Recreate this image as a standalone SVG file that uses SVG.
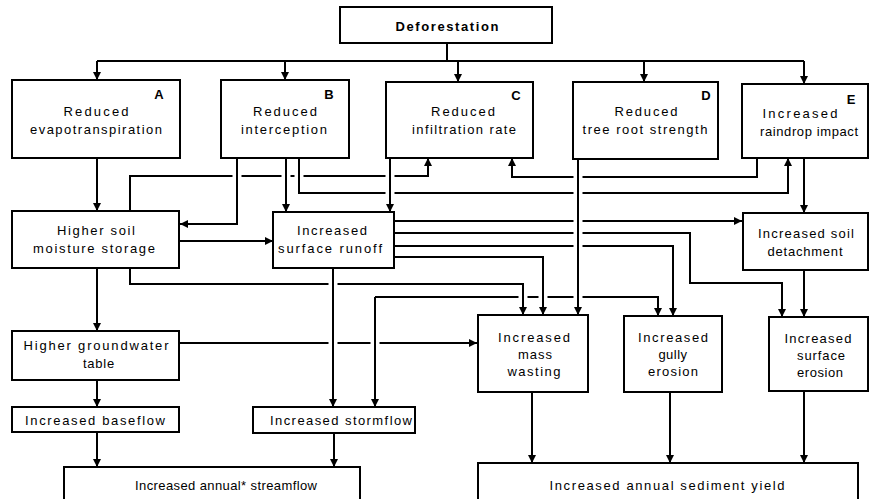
<svg xmlns="http://www.w3.org/2000/svg" width="870" height="499" viewBox="0 0 870 499">
<defs>
<marker id="ah" viewBox="0 0 8 8" refX="8" refY="4" markerWidth="8" markerHeight="8" markerUnits="userSpaceOnUse" orient="auto">
<path d="M0,0 L8,4 L0,8 z" fill="#000"/>
</marker>
<style>
.box{fill:#fff;stroke:#000;stroke-width:2}
.t{font-family:"Liberation Sans",Arial,sans-serif;font-size:13px;text-anchor:middle;fill:#000}
.lab{font-family:"Liberation Sans",Arial,sans-serif;font-size:13px;font-weight:bold;text-anchor:middle;fill:#000}
.w{fill:none;stroke:#000;stroke-width:2}
.a{marker-end:url(#ah)}
.gap{stroke:#fff;stroke-width:9}
.rw{stroke:#000;stroke-width:2}
</style>
</defs>
<rect width="870" height="499" fill="#fff"/>

<g id="connectors">
<path class="w" d="M447,43 V61 M97,61 H804"/>
<path class="w a" d="M97,61 V80"/>
<path class="w a" d="M285,61 V80"/>
<path class="w a" d="M458,61 V82"/>
<path class="w a" d="M644,61 V82"/>
<path class="w a" d="M804,61 V84"/>

<path class="w a" d="M130,211 V176 H428 V158"/>
<path class="w a" d="M757,158 V177 H512 V158"/>
<path class="w a" d="M299,158 V193 H788 V158"/>
<path class="w a" d="M97,158 V211"/>
<path class="w a" d="M97,268 V331"/>
<path class="w a" d="M97,380 V407"/>
<path class="w a" d="M97,432 V467"/>
<path class="w a" d="M334,433 V467"/>
<path class="w a" d="M179,241 H273"/>
<path class="w a" d="M237,158 V224 H180"/>
<path class="w a" d="M286,158 V212"/>
<path class="w a" d="M390,158 V212"/>
<path class="w a" d="M578,159 V315"/>
<path class="w a" d="M804,158 V213"/>
<path class="w a" d="M804,270 V317"/>
<path class="w a" d="M394,221 H742"/>
<path class="w a" d="M394,233 H690 V283 H782 V317"/>
<path class="w a" d="M394,246 H673 V316"/>
<path class="w a" d="M394,257 H543 V315"/>
<path class="w a" d="M130,268 V284 H523 V315"/>
<path class="w a" d="M375,297 H658 V316"/>
<path class="w a" d="M375,297 V407"/>
<path class="w a" d="M333,268 V407"/>
<path class="w a" d="M179,343 H477"/>
<path class="w a" d="M532,392 V463"/>
<path class="w a" d="M670,392 V463"/>
<path class="w a" d="M804,391 V463"/>

<g id="crossings">
<path class="gap" d="M237,171 V181 M286,171 V181 M299,171 V181 M390,171 V181 M578,172 V182 M390,188 V198 M578,188 V198 M578,216 V226 M578,228 V238 M578,241 V251 M333,279 V289 M523,292 V302 M543,292 V302 M578,292 V302 M333,338 V348 M375,338 V348"/>
<path class="rw" d="M237,169 V183 M286,169 V183 M299,169 V183 M390,169 V183 M578,170 V184 M390,186 V200 M578,186 V200 M578,214 V228 M578,226 V240 M578,239 V253 M333,277 V291 M523,290 V304 M543,290 V304 M578,290 V304 M333,336 V350 M375,336 V350"/>
</g>
</g>

<g id="deforestation">
<rect class="box" x="340" y="7" width="212" height="36"/>
<text class="lab" x="447" y="31" textLength="103">Deforestation</text>
</g>

<g id="nodeA">
<rect class="box" x="12" y="80" width="168" height="78"/>
<text class="lab" x="159" y="99">A</text>
<text class="t" x="96" y="116" textLength="65">Reduced</text>
<text class="t" x="96" y="134" textLength="132">evapotranspiration</text>
</g>

<g id="nodeB">
<rect class="box" x="221" y="80" width="128" height="78"/>
<text class="lab" x="329" y="99">B</text>
<text class="t" x="285" y="116" textLength="64">Reduced</text>
<text class="t" x="284" y="134" textLength="86">interception</text>
</g>

<g id="nodeC">
<rect class="box" x="386" y="82" width="147" height="76"/>
<text class="lab" x="516" y="100">C</text>
<text class="t" x="463" y="116" textLength="64">Reduced</text>
<text class="t" x="464" y="134" textLength="104">infiltration rate</text>
</g>

<g id="nodeD">
<rect class="box" x="573" y="82" width="145" height="77"/>
<text class="lab" x="706" y="100">D</text>
<text class="t" x="646" y="116" textLength="63">Reduced</text>
<text class="t" x="645" y="134" textLength="125">tree root strength</text>
</g>

<g id="nodeE">
<rect class="box" x="742" y="84" width="126" height="74"/>
<text class="lab" x="851" y="104">E</text>
<text class="t" x="800" y="118" textLength="75">Increased</text>
<text class="t" x="809" y="136" textLength="98">raindrop impact</text>
</g>

<g id="soilMoisture">
<rect class="box" x="12" y="211" width="167" height="57"/>
<text class="t" x="96" y="235" textLength="78">Higher soil</text>
<text class="t" x="94" y="253" textLength="122">moisture storage</text>
</g>

<g id="surfaceRunoff">
<rect class="box" x="273" y="212" width="121" height="56"/>
<text class="t" x="332" y="235" textLength="70">Increased</text>
<text class="t" x="330" y="253" textLength="104">surface runoff</text>
</g>

<g id="soilDetachment">
<rect class="box" x="743" y="213" width="125" height="57"/>
<text class="t" x="806" y="238" textLength="96">Increased soil</text>
<text class="t" x="805" y="256" textLength="75">detachment</text>
</g>

<g id="groundwater">
<rect class="box" x="12" y="331" width="167" height="49"/>
<text class="t" x="96" y="350" textLength="145">Higher groundwater</text>
<text class="t" x="99" y="368" style="letter-spacing:0.8px">table</text>
</g>

<g id="massWasting">
<rect class="box" x="478" y="315" width="110" height="77"/>
<text class="t" x="534" y="342" textLength="72">Increased</text>
<text class="t" x="535" y="359" textLength="34">mass</text>
<text class="t" x="534" y="376" textLength="53">wasting</text>
</g>

<g id="gullyErosion">
<rect class="box" x="624" y="316" width="98" height="76"/>
<text class="t" x="673" y="342" textLength="70">Increased</text>
<text class="t" x="673" y="359" style="letter-spacing:0.5px">gully</text>
<text class="t" x="673" y="376" textLength="50">erosion</text>
</g>

<g id="surfaceErosion">
<rect class="box" x="769" y="317" width="99" height="74"/>
<text class="t" x="818" y="343" textLength="67">Increased</text>
<text class="t" x="821" y="360" textLength="48">surface</text>
<text class="t" x="820" y="377" textLength="46">erosion</text>
</g>

<g id="baseflow">
<rect class="box" x="12" y="407" width="167" height="25"/>
<text class="t" x="95" y="425" textLength="140">Increased baseflow</text>
</g>

<g id="stormflow">
<rect class="box" x="253" y="407" width="162" height="26"/>
<text class="t" x="341" y="425" textLength="142">Increased stormflow</text>
</g>

<g id="streamflow">
<rect class="box" x="64" y="467" width="296" height="45"/>
<text class="t" x="226" y="490" textLength="182">Increased annual* streamflow</text>
</g>

<g id="sedimentYield">
<rect class="box" x="478" y="463" width="380" height="49"/>
<text class="t" x="667" y="490" textLength="235">Increased annual sediment yield</text>
</g>
</svg>
